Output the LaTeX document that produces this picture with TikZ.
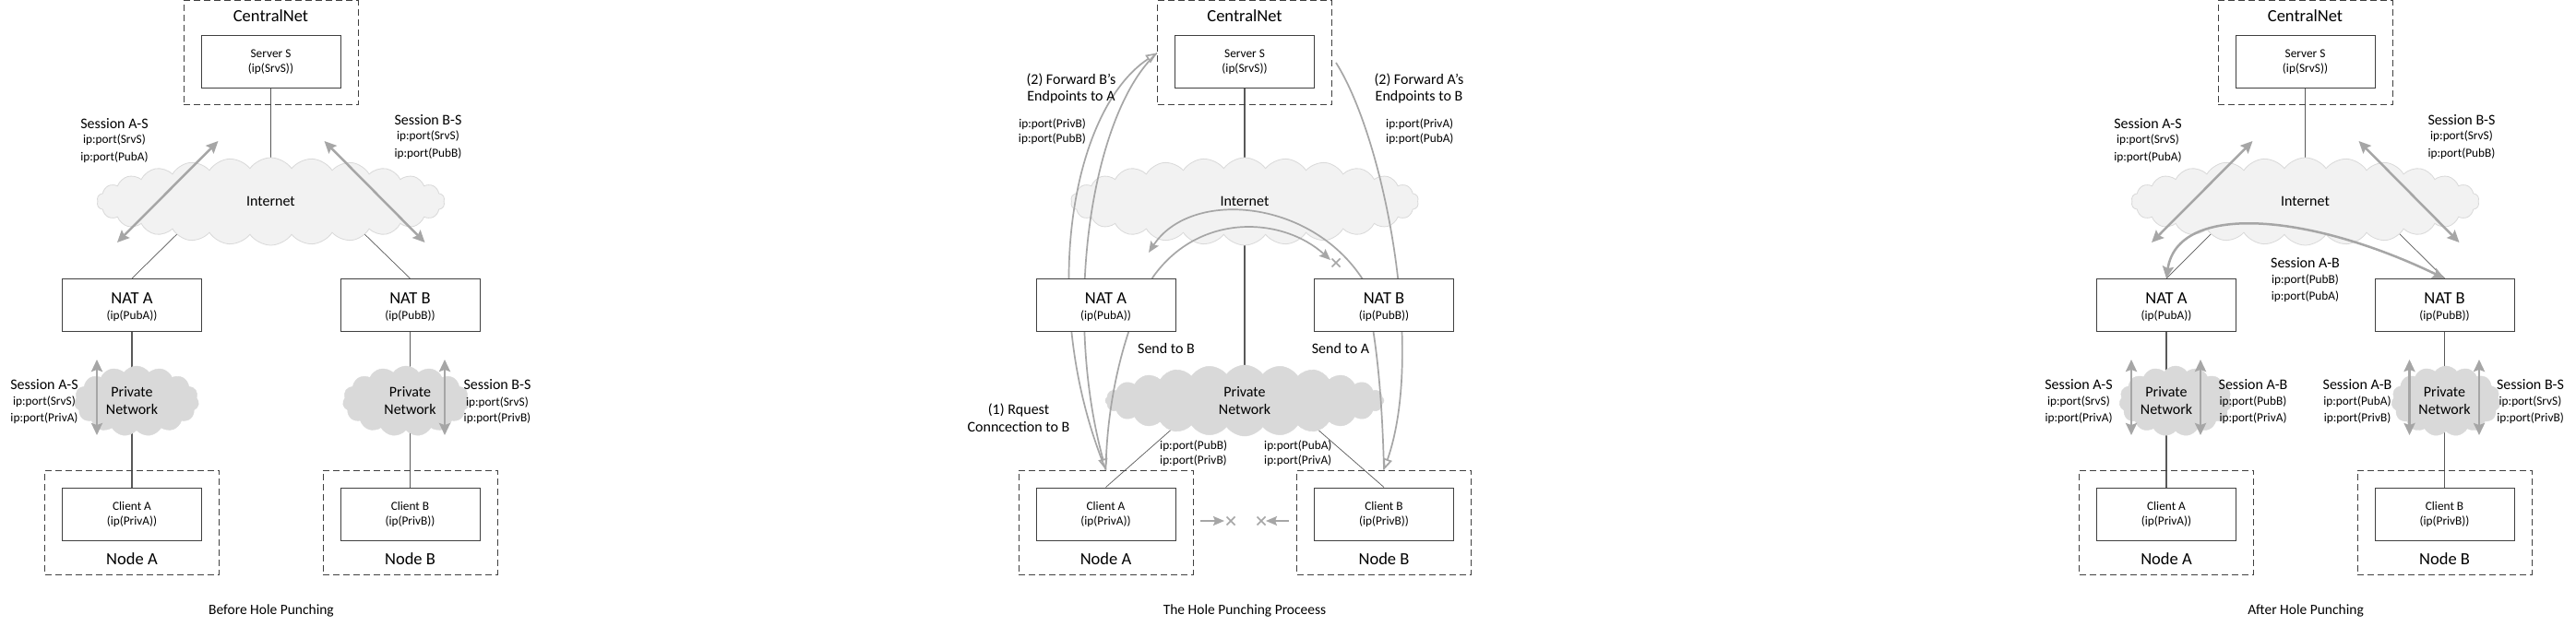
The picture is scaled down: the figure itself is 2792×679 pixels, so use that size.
\documentclass[tikz,border=0pt]{standalone}
\usepackage{fontspec}
\setmainfont{Carlito}
\usetikzlibrary{shapes.symbols,arrows.meta}
\pgfdeclarelayer{bg}
\pgfdeclarelayer{lines}
\pgfdeclarelayer{clouds}
\pgfdeclarelayer{flows}
\pgfsetlayers{bg,lines,clouds,flows,main}
\definecolor{bd}{HTML}{404040}
\definecolor{ln}{HTML}{595959}
\definecolor{ar}{HTML}{A6A6A6}
\definecolor{inetfill}{HTML}{F2F2F2}
\definecolor{inetdraw}{HTML}{D9D9D9}
\definecolor{privfill}{HTML}{D9D9D9}
\tikzset{
 box/.style={draw=bd, line width=1.0pt, fill=white, minimum width=151pt, minimum height=57pt, inner sep=0pt},
 dbox/.style={draw=bd, line width=1.0pt, dash pattern=on 7pt off 4pt, minimum width=189pt, minimum height=113pt, inner sep=0pt},
 inet/.style={cloud, cloud puffs=26, cloud puff arc=110, cloud ignores aspect, fill=inetfill, draw=inetdraw, line width=0.8pt, minimum width=377pt, minimum height=95pt, inner sep=0pt},
 priv/.style={cloud, cloud puffs=15, cloud puff arc=110, cloud ignores aspect, fill=privfill, draw=privfill, minimum height=76pt, inner sep=0pt},
 big/.style={font=\fontsize{18.5}{22}\selectfont, anchor=base, inner sep=0pt},
 mid/.style={font=\fontsize{16}{19}\selectfont, anchor=base, inner sep=0pt},
 sml/.style={font=\fontsize{13.3}{16}\selectfont, anchor=base, inner sep=0pt},
 ttl/.style={font=\fontsize{15.5}{18}\selectfont, anchor=base, inner sep=0pt},
 conn/.style={draw=ln, line width=1.2pt},
 thinln/.style={draw=ln, line width=0.7pt},
 dbl/.style={draw=ar, line width=2.5pt, arrows={Stealth[length=13pt,width=12pt,inset=2pt]-Stealth[length=13pt,width=12pt,inset=2pt]}},
 flow/.style={draw=ar, line width=1.7pt},
 fhead/.style={arrows={-Stealth[length=12pt,width=10pt,inset=2pt]}},
 ohead/.style={arrows={-Triangle[open,length=12pt,width=10pt]}},
 xmark/.style={draw=ar, line width=1.5pt}
}
\newcommand{\xmk}[1]{\draw[xmark] (#1) ++(-4.5,-4.5) -- ++(9,9) (#1) ++(-4.5,4.5) -- ++(9,-9);}
\newcommand{\basepanel}[2]{%
 \node[dbox] (cn#1) at (#2,57.5) {};
 \node[big] (cnt#1) at (#2,24) {CentralNet};
 \node[box] (srv#1) at (#2,67.5) {};
 \node[sml] (srva#1) at (#2,63) {Server S};
 \node[sml] (srvb#1) at (#2,79) {(ip(SrvS))};
 \begin{pgfonlayer}{clouds}\node[inet] (inet#1) at (#2,218.5) {};\end{pgfonlayer}
 \node[mid] (inett#1) at (#2,223) {Internet};
 \node[box] (natA#1) at ({#2-150.5},331) {};
 \node[big] (natAa#1) at ({#2-150.5},329) {NAT A};
 \node[sml] (natAb#1) at ({#2-150.5},346) {(ip(PubA))};
 \node[box] (natB#1) at ({#2+151},331) {};
 \node[big] (natBa#1) at ({#2+151},329) {NAT B};
 \node[sml] (natBb#1) at ({#2+151},346) {(ip(PubB))};
 \node[box] (clA#1) at ({#2-150.5},557.5) {};
 \node[sml] (clAa#1) at ({#2-150.5},553) {Client A};
 \node[sml] (clAb#1) at ({#2-150.5},569) {(ip(PrivA))};
 \node[box] (clB#1) at ({#2+151},557.5) {};
 \node[sml] (clBa#1) at ({#2+151},553) {Client B};
 \node[sml] (clBb#1) at ({#2+151},569) {(ip(PrivB))};
 \node[dbox] (ndA#1) at ({#2-150.5},566.5) {};
 \node[big] (ndAt#1) at ({#2-150.5},612) {Node A};
 \node[dbox] (ndB#1) at ({#2+151},566.5) {};
 \node[big] (ndBt#1) at ({#2+151},612) {Node B};
 \begin{pgfonlayer}{lines}\draw[conn] (srv#1.south) -- (inet#1.center);\end{pgfonlayer}
}
\begin{document}
\begin{tikzpicture}[x=1pt,y=-1pt]
\begin{pgfonlayer}{bg}\fill[white] (0,0) rectangle (2792,679);\end{pgfonlayer}
\useasboundingbox (0,0) rectangle (2792,679);

% ================= Panel 1 =================
\basepanel{1}{293.5}
\begin{pgfonlayer}{clouds}
 \node[priv, minimum width=135pt] (pnA1) at (148,435) {};
 \node[priv, minimum width=137pt] (pnB1) at (440,435) {};
\end{pgfonlayer}
\node[mid] (pnAa1) at (143,430) {Private};
\node[mid] (pnAb1) at (143,449) {Network};
\node[mid] (pnBa1) at (444.5,430) {Private};
\node[mid] (pnBb1) at (444.5,449) {Network};
\coordinate (tA1) at (205,241);
\coordinate (tB1) at (389,248);
\begin{pgfonlayer}{lines}
 \draw[conn] (natA1.south) -- (clA1.north);
 \draw[conn] (natB1.south) -- (clB1.north);
 \draw[thinln] (natA1.north) -- (tA1);
 \draw[thinln] (natB1.north) -- (tB1);
\end{pgfonlayer}
\coordinate (a1s) at (127,263); \coordinate (a1e) at (236.5,153);
\coordinate (b1s) at (351.5,153); \coordinate (b1e) at (460.5,263);
\coordinate (v1s) at (105,390); \coordinate (v1e) at (105,472);
\coordinate (w1s) at (482,390); \coordinate (w1e) at (482,472);
\begin{pgfonlayer}{flows}
 \draw[dbl] (a1s) -- (a1e);
 \draw[dbl] (b1s) -- (b1e);
 \draw[dbl] (v1s) -- (v1e);
 \draw[dbl] (w1s) -- (w1e);
\end{pgfonlayer}
\node[mid] (s1a) at (124,140) {Session A-S};
\node[sml] (s1b) at (124,156) {ip:port(SrvS)};
\node[sml] (s1c) at (124,175) {ip:port(PubA)};
\node[mid] (s1d) at (464,136) {Session B-S};
\node[sml] (s1e) at (464,152) {ip:port(SrvS)};
\node[sml] (s1f) at (464,171) {ip:port(PubB)};
\node[mid] (s1g) at (48,422) {Session A-S};
\node[sml] (s1h) at (48,439) {ip:port(SrvS)};
\node[sml] (s1i) at (48,457) {ip:port(PrivA)};
\node[mid] (s1j) at (539,422) {Session B-S};
\node[sml] (s1k) at (539,440) {ip:port(SrvS)};
\node[sml] (s1l) at (539,457) {ip:port(PrivB)};
\node[ttl] (ttl1) at (294,666) {Before Hole Punching};

% ================= Panel 2 =================
\basepanel{2}{1349}
\begin{pgfonlayer}{clouds}
 \node[priv, cloud puffs=24, minimum width=302pt, minimum height=77pt] (pn2) at (1349,434.5) {};
\end{pgfonlayer}
\node[mid] (pn2a) at (1349,430) {Private};
\node[mid] (pn2b) at (1349,449) {Network};
\coordinate (c2a) at (1291,447);
\coordinate (c2b) at (1410,450);
\begin{pgfonlayer}{lines}
 \draw[conn] (inet2.center) -- (pn2.center);
 \draw[thinln] (clA2.north) -- (c2a);
 \draw[thinln] (clB2.north) -- (c2b);
\end{pgfonlayer}
\coordinate (fb2) at (1448,68);
\coordinate (tB2) at (1442,282);
\coordinate (xB2) at (1448,285);
\coordinate (tA2) at (1245,274);
\coordinate (bl1) at (1301,565); \coordinate (bl2) at (1327,565); \coordinate (xl) at (1334,565);
\coordinate (br1) at (1397,565); \coordinate (br2) at (1372,565); \coordinate (xr) at (1367,565);
\begin{pgfonlayer}{flows}
 \draw[flow, ohead] (ndA2.north) .. controls (1125,330) and (1160,120) .. (cn2.west);
 \draw[flow, ohead] (cn2.west) .. controls (1185,120) and (1150,330) .. (ndA2.north);
 \draw[flow, fhead] (ndA2.north) .. controls (1200,420) and (1225,340) .. (1250,300) .. controls (1300,230) and (1390,235) .. (tB2);
 \xmk{xB2}
 \draw[flow, fhead] (ndB2.north) .. controls (1498,430) and (1492,360) .. (1477,303) .. controls (1420,215) and (1290,205) .. (tA2);
 \draw[flow, ohead] (fb2) .. controls (1500,150) and (1545,380) .. (ndB2.north);
 \draw[flow, fhead] (bl1) -- (bl2);
 \xmk{xl}
 \draw[flow, fhead] (br1) -- (br2);
 \xmk{xr}
\end{pgfonlayer}
\node[mid] (f2a) at (1161,92) {(2) Forward B’s};
\node[mid] (f2b) at (1161,110) {Endpoints to A};
\node[sml, anchor=base east] (f2c) at (1177,139) {ip:port(PrivB)};
\node[sml, anchor=base east] (f2d) at (1177,155) {ip:port(PubB)};
\node[mid] (f2e) at (1538,92) {(2) Forward A’s};
\node[mid] (f2f) at (1538,110) {Endpoints to B};
\node[sml, anchor=base west] (f2g) at (1502,139) {ip:port(PrivA)};
\node[sml, anchor=base west] (f2h) at (1502,155) {ip:port(PubA)};
\node[mid] (sb2) at (1264,383) {Send to B};
\node[mid] (sa2) at (1453,383) {Send to A};
\node[mid] (rq2a) at (1104,449) {(1) Rquest};
\node[mid] (rq2b) at (1104,468) {Conncection to B};
\node[sml, anchor=base west] (ip2a) at (1257,487) {ip:port(PubB)};
\node[sml, anchor=base west] (ip2b) at (1257,503) {ip:port(PrivB)};
\node[sml, anchor=base west] (ip2c) at (1370,487) {ip:port(PubA)};
\node[sml, anchor=base west] (ip2d) at (1370,503) {ip:port(PrivA)};
\node[ttl] (ttl2) at (1349,666) {The Hole Punching Proceess};

% ================= Panel 3 =================
\basepanel{3}{2498.5}
\begin{pgfonlayer}{clouds}
 \node[priv, minimum width=122pt] (pnA3) at (2358,435) {};
 \node[priv, minimum width=118pt] (pnB3) at (2651,435) {};
\end{pgfonlayer}
\node[mid] (pnAa3) at (2348,430) {Private};
\node[mid] (pnAb3) at (2348,449) {Network};
\node[mid] (pnBa3) at (2649.5,430) {Private};
\node[mid] (pnBb3) at (2649.5,449) {Network};
\coordinate (tA3) at (2405,245);
\coordinate (tB3) at (2595,248);
\begin{pgfonlayer}{lines}
 \draw[conn] (natA3.south) -- (clA3.north);
 \draw[conn] (natB3.south) -- (clB3.north);
 \draw[thinln] (natA3.north) -- (tA3);
 \draw[thinln] (natB3.north) -- (tB3);
\end{pgfonlayer}
\coordinate (a3s) at (2332,263); \coordinate (a3e) at (2441.5,153);
\coordinate (b3s) at (2556.5,153); \coordinate (b3e) at (2665.5,263);
\coordinate (v3s) at (2310,390); \coordinate (v3e) at (2310,472);
\coordinate (u3s) at (2385,390); \coordinate (u3e) at (2385,472);
\coordinate (w3s) at (2611.5,390); \coordinate (w3e) at (2611.5,472);
\coordinate (z3s) at (2687,390); \coordinate (z3e) at (2687,472);
\begin{pgfonlayer}{flows}
 \draw[dbl] (a3s) -- (a3e);
 \draw[dbl] (b3s) -- (b3e);
 \draw[dbl] (v3s) -- (v3e);
 \draw[dbl] (u3s) -- (u3e);
 \draw[dbl] (w3s) -- (w3e);
 \draw[dbl] (z3s) -- (z3e);
 \draw[dbl] (natA3.north) .. controls (2360,220) and (2500,230) .. (natB3.north);
\end{pgfonlayer}
\node[mid] (s3a) at (2328,140) {Session A-S};
\node[sml] (s3b) at (2328,156) {ip:port(SrvS)};
\node[sml] (s3c) at (2328,175) {ip:port(PubA)};
\node[mid] (s3d) at (2668,136) {Session B-S};
\node[sml] (s3e) at (2668,152) {ip:port(SrvS)};
\node[sml] (s3f) at (2668,171) {ip:port(PubB)};
\node[mid] (s3g) at (2498.5,290) {Session A-B};
\node[sml] (s3h) at (2498.5,307) {ip:port(PubB)};
\node[sml] (s3i) at (2498.5,325) {ip:port(PubA)};
\node[mid] (s3j) at (2253,422) {Session A-S};
\node[sml] (s3k) at (2253,439) {ip:port(SrvS)};
\node[sml] (s3l) at (2253,457) {ip:port(PrivA)};
\node[mid] (s3m) at (2442,422) {Session A-B};
\node[sml] (s3n) at (2442,439) {ip:port(PubB)};
\node[sml] (s3o) at (2442,457) {ip:port(PrivA)};
\node[mid] (s3p) at (2555,422) {Session A-B};
\node[sml] (s3q) at (2555,439) {ip:port(PubA)};
\node[sml] (s3r) at (2555,457) {ip:port(PrivB)};
\node[mid] (s3s) at (2742.5,422) {Session B-S};
\node[sml] (s3t) at (2742.5,439) {ip:port(SrvS)};
\node[sml] (s3u) at (2742.5,457) {ip:port(PrivB)};
\node[ttl] (ttl3) at (2499,666) {After Hole Punching};
\end{tikzpicture}
\end{document}
